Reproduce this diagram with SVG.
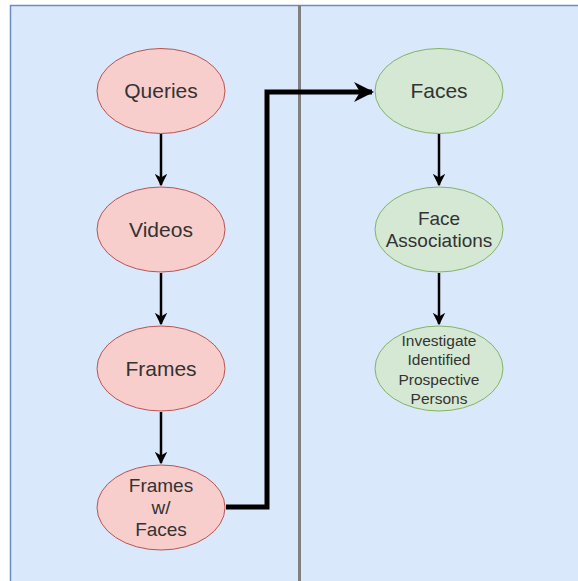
<svg xmlns="http://www.w3.org/2000/svg" width="578" height="581" viewBox="0 0 578 581">
  <style>
    .bg { fill: #dae8fc; stroke: #6c8ebf; stroke-width: 1.5; }
    .divider { stroke: #808080; stroke-width: 3; }
    .red { fill: #f8cecc; stroke: #b85450; stroke-width: 1; }
    .green { fill: #d5e8d4; stroke: #82b366; stroke-width: 1; }
    text { font-family: "Liberation Sans", Arial, sans-serif; fill: #333333; text-anchor: middle; }
    .big { font-size: 21px; }
    .mid { font-size: 19px; }
    .small { font-size: 15.5px; }
    .edge { fill: none; stroke: #000000; stroke-width: 2.5; }
    .thick { fill: none; stroke: #000000; stroke-width: 5; }
  </style>
  <defs>
    <marker id="arrow" viewBox="0 0 10 10" refX="9" refY="5" markerWidth="5" markerHeight="5" markerUnits="strokeWidth" orient="auto">
      <path d="M0,0 L10,5 L0,10 L3,5 Z" fill="#000000"/>
    </marker>
    <marker id="arrowBig" viewBox="0 0 10 10" refX="9" refY="5" markerWidth="4" markerHeight="4" markerUnits="strokeWidth" orient="auto">
      <path d="M0,0 L10,5 L0,10 L3,5 Z" fill="#000000"/>
    </marker>
  </defs>

  <rect x="0" y="0" width="578" height="581" fill="#ffffff"/>
  <rect class="bg" x="10.5" y="5.5" width="580" height="590"/>
  <line class="divider" x1="299.5" y1="5" x2="299.5" y2="581"/>

  <g id="connectors">
    <path class="edge" d="M161,134 L161,185" marker-end="url(#arrow)"/>
    <path class="edge" d="M161,273 L161,324" marker-end="url(#arrow)"/>
    <path class="edge" d="M161,412 L161,463" marker-end="url(#arrow)"/>
    <path class="thick" d="M226,507 L267,507 L267,92 L372,92" marker-end="url(#arrowBig)"/>
    <path class="edge" d="M439,134 L439,185" marker-end="url(#arrow)"/>
    <path class="edge" d="M439,273 L439,324" marker-end="url(#arrow)"/>
  </g>

  <g id="queries">
    <ellipse class="red" cx="161" cy="91" rx="64" ry="42.5"/>
    <text class="big" x="161" y="98">Queries</text>
  </g>
  <g id="videos">
    <ellipse class="red" cx="161" cy="229.5" rx="64" ry="42.5"/>
    <text class="big" x="161" y="237">Videos</text>
  </g>
  <g id="frames">
    <ellipse class="red" cx="161" cy="368.5" rx="64" ry="42.5"/>
    <text class="big" x="161" y="376">Frames</text>
  </g>
  <g id="frames-with-faces">
    <ellipse class="red" cx="161" cy="507.5" rx="64" ry="42.5"/>
    <text class="mid" x="161" y="492">Frames</text>
    <text class="mid" x="161" y="514">w/</text>
    <text class="mid" x="161" y="536">Faces</text>
  </g>

  <g id="faces">
    <ellipse class="green" cx="439" cy="91" rx="64" ry="42.5"/>
    <text class="big" x="439" y="98">Faces</text>
  </g>
  <g id="face-associations">
    <ellipse class="green" cx="439" cy="229.5" rx="64" ry="42.5"/>
    <text class="mid" x="439" y="225">Face</text>
    <text class="mid" x="439" y="247">Associations</text>
  </g>
  <g id="investigate">
    <ellipse class="green" cx="439" cy="368.5" rx="64" ry="42.5"/>
    <text class="small" x="439" y="346">Investigate</text>
    <text class="small" x="439" y="365">Identified</text>
    <text class="small" x="439" y="385">Prospective</text>
    <text class="small" x="439" y="404">Persons</text>
  </g>
</svg>
